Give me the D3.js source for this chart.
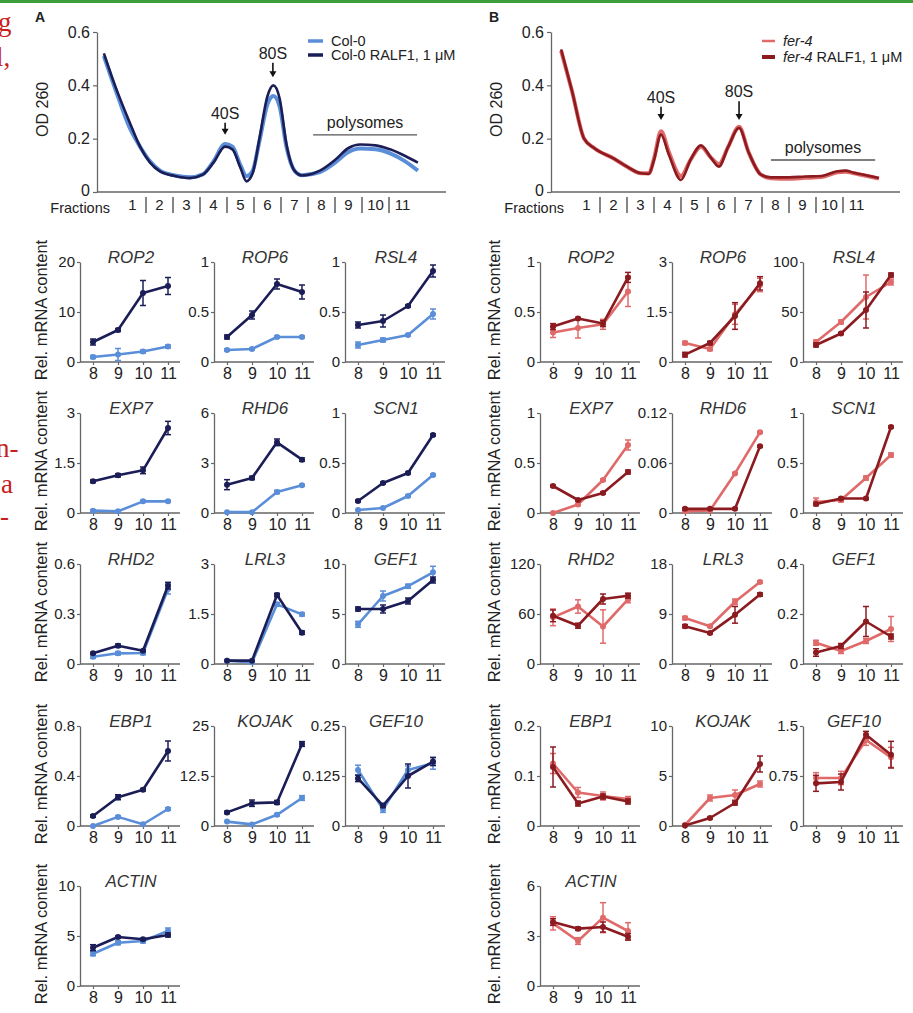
<!DOCTYPE html>
<html>
<head>
<meta charset="utf-8">
<script src="https://cdn.jsdelivr.net/npm/d3@7"></script>
<style>
  body { margin: 0; background: #fff; }
  svg { display: block; font-family: "Liberation Sans", Arial, sans-serif; }
</style>
</head>
<body>
<svg id="chart" width="913" height="1013"></svg>
<script>
// ---- polysome profiles (x in fraction units, 0 = start of fraction 1) ----
const fractions = d3.range(1, 12);
const posA = [-0.56, -0.15, 0.4, 0.78, 1.15, 1.52, 2.07, 2.63, 3.1, 3.5, 3.93, 4.2, 4.5, 4.72, 4.95,
              5.2, 5.5, 5.72, 5.95, 6.2, 6.5, 6.78, 7.44, 8.0, 8.5, 8.93, 9.5, 10.04, 10.6, 11.07];
const col0OD = [0.51, 0.39, 0.24, 0.17, 0.115, 0.08, 0.062, 0.055, 0.066, 0.115, 0.18, 0.17, 0.10, 0.06, 0.08,
                0.19, 0.33, 0.36, 0.32, 0.17, 0.08, 0.063, 0.075, 0.11, 0.15, 0.163, 0.16, 0.145, 0.115, 0.08];
const col0RalfOD = [0.52, 0.40, 0.26, 0.17, 0.11, 0.077, 0.06, 0.052, 0.065, 0.11, 0.17, 0.16, 0.09, 0.04, 0.07,
                    0.2, 0.36, 0.40, 0.35, 0.18, 0.08, 0.062, 0.08, 0.12, 0.165, 0.178, 0.175, 0.16, 0.135, 0.11];
const posB = [-0.44, -0.04, 0.41, 0.78, 1.52, 2.0, 2.52, 2.81, 3.0, 3.26, 3.55, 4.0, 4.35, 4.74, 5.1,
              5.4, 5.75, 6.15, 6.5, 6.96, 7.33, 8.0, 8.6, 9.2, 9.8, 10.1, 10.4, 10.9, 11.33];
const fer4OD = [0.53, 0.38, 0.2, 0.165, 0.125, 0.095, 0.07, 0.07, 0.125, 0.228, 0.15, 0.06, 0.12, 0.17, 0.13,
                0.105, 0.17, 0.245, 0.15, 0.065, 0.052, 0.05, 0.053, 0.056, 0.074, 0.076, 0.07, 0.06, 0.05];
const fer4RalfOD = [0.535, 0.38, 0.2, 0.165, 0.125, 0.095, 0.07, 0.068, 0.12, 0.215, 0.14, 0.045, 0.12, 0.175, 0.13,
                    0.095, 0.17, 0.24, 0.15, 0.065, 0.055, 0.055, 0.058, 0.06, 0.078, 0.08, 0.072, 0.062, 0.052];

// ---- qPCR of fractions 8-11 ----
const qFractions = [8, 9, 10, 11];
const genes = ["ROP2", "ROP6", "RSL4", "EXP7", "RHD6", "SCN1", "RHD2", "LRL3", "GEF1", "EBP1", "KOJAK", "GEF10", "ACTIN"];
const yMaxA = [20, 1, 1, 3, 6, 1, 0.6, 3, 10, 0.8, 25, 0.25, 10];
const yMaxB = [1, 3, 100, 1, 0.12, 1, 120, 18, 0.4, 0.2, 10, 1.5, 6];

const col0Rel = [[1.0, 1.5, 2.1, 3.1], [0.12, 0.13, 0.25, 0.25], [0.17, 0.22, 0.27, 0.48], [0.07, 0.05, 0.35, 0.35],
  [0.05, 0.05, 1.26, 1.66], [0.03, 0.05, 0.17, 0.38], [0.044, 0.064, 0.066, 0.45], [0.1, 0.05, 1.79, 1.49],
  [3.97, 6.8, 7.78, 9.17], [0.0, 0.073, 0.014, 0.136], [1.1, 0.4, 2.8, 7.0], [0.14, 0.042, 0.14, 0.157], [3.23, 4.33, 4.5, 5.5]];
const col0Err = [[0.3, 1.2, 0.3, 0.3], [0.01, 0.01, 0.01, 0.01], [0.03, 0.02, 0.01, 0.05], [0.03, 0.02, 0.03, 0.03],
  [0, 0, 0.1, 0.05], [0, 0, 0.01, 0.01], [0.01, 0.01, 0.01, 0.03], [0, 0, 0.05, 0.05],
  [0.3, 0.5, 0.2, 0.6], [0, 0.01, 0, 0.01], [0, 0, 0.3, 0.6], [0.012, 0.008, 0.01, 0.015], [0.2, 0.2, 0.2, 0.3]];
const col0RalfRel = [[4.0, 6.4, 13.8, 15.2], [0.25, 0.47, 0.78, 0.70], [0.37, 0.41, 0.56, 0.91], [0.95, 1.13, 1.28, 2.55],
  [1.7, 2.1, 4.24, 3.2], [0.12, 0.30, 0.40, 0.78], [0.064, 0.11, 0.08, 0.47], [0.1, 0.1, 2.07, 0.94],
  [5.5, 5.5, 6.3, 8.4], [0.08, 0.23, 0.29, 0.60], [3.4, 5.7, 5.9, 20.5], [0.119, 0.051, 0.125, 0.161], [3.83, 4.9, 4.67, 5.1]];
const col0RalfErr = [[0.6, 0.3, 2.5, 1.7], [0.02, 0.04, 0.05, 0.07], [0.03, 0.06, 0.01, 0.06], [0.04, 0.05, 0.1, 0.2],
  [0.3, 0.1, 0.2, 0.1], [0.01, 0.01, 0.01, 0.01], [0.005, 0.01, 0.005, 0.02], [0, 0, 0.05, 0.05],
  [0.2, 0.4, 0.3, 0.3], [0.01, 0.02, 0.01, 0.08], [0.3, 0.8, 0.5, 0.6], [0.008, 0.005, 0.03, 0.01], [0.3, 0.1, 0.1, 0.2]];

const fer4Rel = [[0.295, 0.34, 0.377, 0.705], [0.57, 0.39, 1.43, 2.31], [20, 40, 65, 80], [0.0, 0.085, 0.33, 0.68],
  [0.002, 0.003, 0.0475, 0.097], [0.11, 0.13, 0.35, 0.58], [56, 69, 45, 77.5], [8.26, 6.8, 11.2, 14.75],
  [0.085, 0.052, 0.092, 0.14], [0.125, 0.067, 0.06, 0.054], [0.1, 2.8, 3.1, 4.2], [0.72, 0.72, 1.29, 1.03], [3.76, 2.7, 4.1, 3.3]];
const fer4Err = [[0.05, 0.1, 0.05, 0.15], [0.05, 0.05, 0.3, 0.2], [2, 2, 22, 3], [0, 0.01, 0.01, 0.05],
  [0, 0, 0.001, 0.001], [0.04, 0.02, 0.02, 0.02], [10, 8, 20, 4], [0.3, 0.2, 0.5, 0.2],
  [0.01, 0.01, 0.01, 0.05], [0.02, 0.01, 0.008, 0.005], [0.1, 0.3, 0.5, 0.3], [0.08, 0.1, 0.08, 0.15], [0.4, 0.2, 0.9, 0.5]];
const fer4RalfRel = [[0.354, 0.436, 0.384, 0.846], [0.22, 0.57, 1.38, 2.36], [17, 28.5, 52, 87], [0.27, 0.13, 0.2, 0.41],
  [0.005, 0.005, 0.005, 0.08], [0.09, 0.145, 0.145, 0.86], [57.8, 46, 78, 82], [6.8, 5.6, 8.85, 12.5],
  [0.046, 0.072, 0.17, 0.11], [0.118, 0.045, 0.059, 0.049], [0.05, 0.8, 2.3, 6.2], [0.64, 0.66, 1.37, 1.07], [3.84, 3.44, 3.54, 2.95]];
const fer4RalfErr = [[0.03, 0.01, 0.03, 0.05], [0.07, 0.05, 0.4, 0.2], [2, 1, 18, 2], [0.01, 0.01, 0.01, 0.02],
  [0.001, 0.001, 0.001, 0.001], [0.01, 0.01, 0.01, 0.01], [7, 3, 6, 3], [0.3, 0.2, 1.5, 0.3],
  [0.015, 0.01, 0.06, 0.01], [0.04, 0.005, 0.005, 0.005], [0.05, 0.1, 0.2, 0.8], [0.12, 0.12, 0.05, 0.2], [0.2, 0.1, 0.3, 0.2]];

const blueLight = "#5b8ed8", blueDark = "#1b1d57";
const redLight = "#e06a6a", redDark = "#8c1b20";
const axisColor = "#666", textColor = "#222";

const svg = d3.select("#chart");
svg.append("rect").attr("width", 913).attr("height", 1013).attr("fill", "#fff");
// page bits around the figure
svg.append("rect").attr("width", 913).attr("height", 3).attr("fill", "#3d9e3a");
const bleed = svg.append("g").attr("fill", "#c81e1e").style("font-family", "'Liberation Serif', serif").style("font-size", "27px");
bleed.append("text").attr("x", -2).attr("y", 31).text("g");
bleed.append("text").attr("x", -4).attr("y", 66).text("l,");
bleed.append("text").attr("x", -4).attr("y", 457).text("n-");
bleed.append("text").attr("x", 1).attr("y", 493).text("a");
bleed.append("text").attr("x", 0).attr("y", 525).text("-");

function styleAxis(sel, size) {
  sel.select(".domain").attr("stroke", axisColor).attr("stroke-width", 1.3);
  sel.selectAll(".tick line").attr("stroke", axisColor).attr("stroke-width", 1.2);
  sel.selectAll(".tick text").attr("fill", textColor).style("font-size", size + "px").style("font-family", "'Liberation Sans', Arial, sans-serif");
}

function arrow(g, x, y1, y2) {
  g.append("line").attr("x1", x).attr("x2", x).attr("y1", y1).attr("y2", y2 - 5)
    .attr("stroke", "#111").attr("stroke-width", 1.6);
  g.append("path").attr("d", `M${x - 3.5},${y2 - 6}L${x + 3.5},${y2 - 6}L${x},${y2}Z`).attr("fill", "#111");
}

function drawProfile(opts) {
  const g = svg.append("g");
  const x0 = opts.x0;
  const x = d3.scaleLinear().domain([0, 11]).range([x0 + 22, x0 + 22 + 27 * 11]);
  const y = d3.scaleLinear().domain([0, 0.6]).range([192, 32]);

  g.append("text").attr("x", x0 - 62).attr("y", 22).attr("font-weight", "bold").style("font-size", "14px").attr("fill", textColor).text(opts.letter);

  const ya = g.append("g").attr("transform", `translate(${x0},0)`)
    .call(d3.axisLeft(y).tickValues([0, 0.2, 0.4, 0.6]).tickFormat(d3.format("~g")).tickSize(4).tickSizeOuter(0).tickPadding(3));
  styleAxis(ya, 16);
  ya.selectAll(".tick text").filter(d => d === 0).attr("dy", "0.2em");
  g.append("line").attr("x1", x0).attr("x2", x0 + 349).attr("y1", 192).attr("y2", 192)
    .attr("stroke", axisColor).attr("stroke-width", 1.3);
  g.append("text").attr("transform", `translate(${x0 - 49},${y(0.31)}) rotate(-90)`).attr("text-anchor", "middle")
    .style("font-size", "16px").attr("fill", textColor).text("OD 260");

  // fraction strip
  g.append("text").attr("x", x0 + 13).attr("y", 213).attr("text-anchor", "end").style("font-size", "14.5px").attr("fill", textColor).text("Fractions");
  g.selectAll("text.frac").data(fractions).join("text").attr("class", "frac")
    .attr("x", d => x(d - 0.5)).attr("y", 210).attr("text-anchor", "middle").style("font-size", "15px").attr("fill", textColor).text(d => d);
  g.selectAll("line.div").data(fractions.slice(1)).join("line").attr("class", "div")
    .attr("x1", d => x(d - 1)).attr("x2", d => x(d - 1)).attr("y1", 197).attr("y2", 213)
    .attr("stroke", "#444").attr("stroke-width", 1.3);

  const line = d3.line().x(d => x(d[0])).y(d => y(d[1])).curve(d3.curveMonotoneX);
  g.append("path").attr("d", line(opts.pos.map((p, i) => [p, opts.light[i]])))
    .attr("fill", "none").attr("stroke", opts.cLight).attr("stroke-width", 4).attr("stroke-linejoin", "round");
  g.append("path").attr("d", line(opts.pos.map((p, i) => [p, opts.dark[i]])))
    .attr("fill", "none").attr("stroke", opts.cDark).attr("stroke-width", 2.6).attr("stroke-linejoin", "round");

  // peak annotations
  opts.peaks.forEach(p => {
    g.append("text").attr("x", x(p.pos)).attr("y", y(p.text)).attr("text-anchor", "middle")
      .style("font-size", "16px").attr("fill", textColor).text(p.label);
    arrow(g, x(p.pos), y(p.text) + 4, y(p.tip));
  });
  const pl = opts.poly;
  g.append("line").attr("x1", x(pl.from)).attr("x2", x(pl.to)).attr("y1", y(pl.y)).attr("y2", y(pl.y))
    .attr("stroke", "#555").attr("stroke-width", 1.3);
  g.append("text").attr("x", x((pl.from + pl.to) / 2)).attr("y", y(pl.y) - 7).attr("text-anchor", "middle")
    .style("font-size", "16px").attr("fill", textColor).text("polysomes");

  // legend
  opts.legend.forEach((l, i) => {
    const ly = opts.legendY[i];
    g.append("line").attr("x1", opts.legendX).attr("x2", opts.legendX + opts.legendLen).attr("y1", ly).attr("y2", ly)
      .attr("stroke", l.color).attr("stroke-width", l.w);
    const t = g.append("text").attr("x", opts.legendX + opts.legendLen + 8).attr("y", ly + 5)
      .style("font-size", "14.5px").attr("fill", textColor);
    l.parts.forEach(pt => t.append("tspan").attr("font-style", pt[1] ? "italic" : null).text(pt[0]));
  });
}

drawProfile({
  x0: 97, letter: "A", pos: posA, light: col0OD, dark: col0RalfOD, cLight: blueLight, cDark: blueDark,
  peaks: [{ label: "40S", pos: 3.93, text: 0.275, tip: 0.215 }, { label: "80S", pos: 5.7, text: 0.5, tip: 0.43 }],
  poly: { from: 7.19, to: 11.04, y: 0.214 },
  legendX: 308, legendLen: 15, legendY: [41, 55],
  legend: [{ color: blueLight, w: 3.5, parts: [["Col-0", false]] },
           { color: blueDark, w: 3.5, parts: [["Col-0 RALF1, 1 \u03bcM", false]] }]
});
drawProfile({
  x0: 551, letter: "B", pos: posB, light: fer4OD, dark: fer4RalfOD, cLight: redLight, cDark: redDark,
  peaks: [{ label: "40S", pos: 3.26, text: 0.335, tip: 0.27 }, { label: "80S", pos: 6.15, text: 0.355, tip: 0.27 }],
  poly: { from: 7.33, to: 11.19, y: 0.12 },
  legendX: 762, legendLen: 13, legendY: [41, 57],
  legend: [{ color: redLight, w: 2.5, parts: [["fer-4", true]] },
           { color: redDark, w: 4, parts: [["fer-4", true], [" RALF1, 1 \u03bcM", false]] }]
});

// ---- small multiples ----
const rowTop = [262, 413, 564, 726, 886];
const plotH = 100;
const colAxisA = [80, 214, 345];
const colAxisB = [540, 672, 803];

function drawSmall(ax, top, max, name, series) {
  const g = svg.append("g");
  const x = d3.scaleLinear().domain([8, 11]).range([ax + 13, ax + 88]);
  const y = d3.scaleLinear().domain([0, max]).range([top + plotH, top]);

  const ya = g.append("g").attr("transform", `translate(${ax},0)`)
    .call(d3.axisLeft(y).tickValues([0, max / 2, max]).tickFormat(d3.format("~g")).tickSize(3).tickSizeOuter(0).tickPadding(2));
  styleAxis(ya, 15);
  const xa = g.append("g").attr("transform", `translate(0,${top + plotH})`)
    .call(d3.axisBottom(x).tickValues(qFractions).tickFormat(d3.format("d")).tickSize(3).tickSizeOuter(0).tickPadding(3));
  styleAxis(xa, 16);
  xa.select(".domain").remove();
  g.append("line").attr("x1", ax).attr("x2", ax + 100).attr("y1", top + plotH).attr("y2", top + plotH)
    .attr("stroke", axisColor).attr("stroke-width", 1.3);

  g.append("text").attr("x", ax + 51).attr("y", top + 1).attr("text-anchor", "middle")
    .attr("font-style", "italic").style("font-size", "17px").attr("fill", "#333").text(name);

  const line = d3.line().x((d, i) => x(qFractions[i])).y(d => y(d));
  series.forEach(s => {
    const sg = g.append("g").attr("stroke", s.color).attr("fill", s.color);
    sg.append("path").attr("d", line(s.vals)).attr("fill", "none").attr("stroke-width", 2.6).attr("stroke-linejoin", "round");
    s.vals.forEach((v, i) => {
      const e = s.errs[i];
      const cx = x(qFractions[i]);
      if (e > 0) {
        sg.append("line").attr("x1", cx).attr("x2", cx).attr("y1", y(v - e)).attr("y2", y(v + e)).attr("stroke-width", 1.5);
        [v - e, v + e].forEach(ev => sg.append("line").attr("x1", cx - 3).attr("x2", cx + 3)
          .attr("y1", y(ev)).attr("y2", y(ev)).attr("stroke-width", 1.5));
      }
      sg.append("circle").attr("cx", cx).attr("cy", y(v)).attr("r", 3).attr("stroke", "none");
    });
  });
}

function yLabel(cx, cy) {
  svg.append("text").attr("transform", `translate(${cx},${cy}) rotate(-90)`).attr("text-anchor", "middle")
    .style("font-size", "16.5px").attr("fill", textColor).text("Rel. mRNA content");
}

genes.forEach((name, gi) => {
  const row = Math.floor(gi / 3), col = gi % 3;
  const top = rowTop[row];
  drawSmall(colAxisA[col], top, yMaxA[gi], name, [
    { vals: col0Rel[gi], errs: col0Err[gi], color: blueLight },
    { vals: col0RalfRel[gi], errs: col0RalfErr[gi], color: blueDark }
  ]);
  drawSmall(colAxisB[col], top, yMaxB[gi], name, [
    { vals: fer4Rel[gi], errs: fer4Err[gi], color: redLight },
    { vals: fer4RalfRel[gi], errs: fer4RalfErr[gi], color: redDark }
  ]);
});
rowTop.forEach(t => {
  yLabel(47, t + 48);
  yLabel(500, t + 48);
});
</script>
</body>
</html>
